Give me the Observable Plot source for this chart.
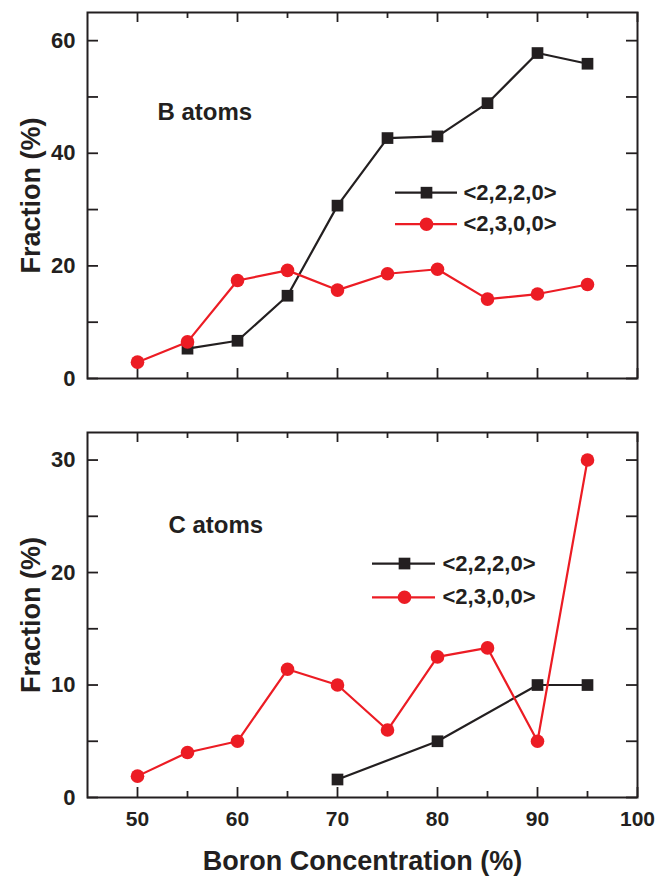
<!DOCTYPE html>
<html>
<head>
<meta charset="utf-8">
<script src="https://cdn.jsdelivr.net/npm/d3@7"></script>
<script src="https://cdn.jsdelivr.net/npm/@observablehq/plot@0.6"></script>
<style>
  html, body { margin: 0; padding: 0; background: #ffffff; }
  #chart { width: 655px; }
  #chart svg { display: block; }
</style>
</head>
<body>
<div id="chart"></div>
<script>
// ---------------- data ----------------
const boron = [50, 55, 60, 65, 70, 75, 80, 85, 90, 95];

// B atoms panel
const bAtoms2220 = [null, 5.3, 6.7, 14.7, 30.7, 42.7, 43.0, 48.9, 57.8, 55.9];
const bAtoms2300 = [2.9, 6.5, 17.4, 19.2, 15.7, 18.6, 19.4, 14.1, 15.0, 16.7];

// C atoms panel
const cAtoms2220 = [null, null, null, null, 1.6, null, 5.0, null, 10.0, 10.0];
const cAtoms2300 = [1.9, 4.0, 5.0, 11.4, 10.0, 6.0, 12.5, 13.3, 5.0, 30.0];

const seriesNames = ["<2,2,2,0>", "<2,3,0,0>"];
const panelLabels = ["B atoms", "C atoms"];
const xTickLabels = [50, 60, 70, 80, 90, 100];
const xMinorTicks = [55, 65, 75, 85, 95];
const yTicksTop = [0, 10, 20, 30, 40, 50, 60];
const yLabelsTop = [0, 20, 40, 60];
const yTicksBottom = [0, 5, 10, 15, 20, 25, 30];
const yLabelsBottom = [0, 10, 20, 30];
const yTitle = "Fraction (%)";
const xTitle = "Boron Concentration (%)";

// ---------------- styling ----------------
const ink = "#231f20";
const red = "#ec1c24";
const font = "'Liberation Sans', Arial, Helvetica, sans-serif";
const W = 655, ML = 87, MR = 18;

function rows(ys) {
  return boron.map((x, i) => ({x, y: ys[i]})).filter(d => d.y != null);
}

function panel(o) {
  const innerW = W - ML - MR;
  const innerH = o.height - o.marginTop - o.marginBottom;
  const s1 = rows(o.s2220), s2 = rows(o.s2300);
  const lg = o.legend;
  const marks = [
    // inward ticks on all four sides
    Plot.tickY(o.yTicks, {y: d => d, stroke: ink, strokeWidth: 1.8, insetRight: innerW - 11}),
    Plot.tickY(o.yTicks, {y: d => d, stroke: ink, strokeWidth: 1.8, insetLeft: innerW - 11}),
    Plot.tickX(xTickLabels, {x: d => d, stroke: ink, strokeWidth: 1.8, insetTop: innerH - 10}),
    Plot.tickX(xTickLabels, {x: d => d, stroke: ink, strokeWidth: 1.8, insetBottom: innerH - 10}),
    Plot.tickX(xMinorTicks, {x: d => d, stroke: ink, strokeWidth: 1.8, insetTop: innerH - 6}),
    Plot.tickX(xMinorTicks, {x: d => d, stroke: ink, strokeWidth: 1.8, insetBottom: innerH - 6}),
    Plot.axisY(o.yLabels, {tickSize: 0, tickPadding: 12, fontSize: 22, fontWeight: "bold", fill: ink, label: null}),
    Plot.text([yTitle], {frameAnchor: "left", rotate: -90, dx: -56, textAnchor: "middle", lineAnchor: "middle",
      fontSize: 27, fontWeight: "bold", fill: ink}),
    // series
    Plot.line(s1, {x: "x", y: "y", stroke: ink, strokeWidth: 2.2}),
    Plot.line(s2, {x: "x", y: "y", stroke: red, strokeWidth: 2.2}),
    Plot.dot(s1, {x: "x", y: "y", symbol: "square", r: 6.6, fill: ink}),
    Plot.dot(s2, {x: "x", y: "y", symbol: "circle", r: 6.8, fill: red}),
    // panel label
    Plot.text([o.label], {frameAnchor: "top-left", dx: o.labelDx, dy: o.labelDy, textAnchor: "start", lineAnchor: "middle",
      fontSize: 24, fontWeight: "bold", fill: ink}),
    // legend
    Plot.ruleY([lg.y1], {x1: lg.x1, x2: lg.x2, stroke: ink, strokeWidth: 2.2}),
    Plot.ruleY([lg.y2], {x1: lg.x1, x2: lg.x2, stroke: red, strokeWidth: 2.2}),
    Plot.dot([{x: lg.xm, y: lg.y1}], {x: "x", y: "y", symbol: "square", r: 6.6, fill: ink}),
    Plot.dot([{x: lg.xm, y: lg.y2}], {x: "x", y: "y", symbol: "circle", r: 6.8, fill: red}),
    Plot.text([{t: seriesNames[0], y: lg.y1}, {t: seriesNames[1], y: lg.y2}],
      {x: () => lg.xt, y: "y", text: "t", textAnchor: "start", lineAnchor: "middle", fontSize: 22, fontWeight: "bold", fill: ink}),
    Plot.frame({stroke: ink, strokeWidth: 2})
  ];
  if (o.showX) {
    marks.push(
      Plot.axisX(xTickLabels, {tickSize: 0, tickPadding: 14, fontSize: 21, fontWeight: "bold", fill: ink, label: null}),
      Plot.text([xTitle], {frameAnchor: "bottom", dy: 64, textAnchor: "middle", lineAnchor: "middle",
        fontSize: 27, fontWeight: "bold", fill: ink})
    );
  }
  return Plot.plot({
    width: W,
    height: o.height,
    marginLeft: ML,
    marginRight: MR,
    marginTop: o.marginTop,
    marginBottom: o.marginBottom,
    style: {fontFamily: font, background: "transparent", overflow: "visible", color: ink},
    x: {domain: [45, 100], axis: null, label: null},
    y: {domain: o.yDomain, axis: null, label: null},
    marks
  });
}

const chart = document.getElementById("chart");
chart.append(panel({
  height: 405, marginTop: 12, marginBottom: 27,
  yDomain: [0, 65], yTicks: yTicksTop, yLabels: yLabelsTop,
  s2220: bAtoms2220, s2300: bAtoms2300,
  label: panelLabels[0], labelDx: 70, labelDy: 100,
  legend: {x1: 75.8, x2: 82.0, xm: 78.9, xt: 82.6, y1: 33.0, y2: 27.4},
  showX: false
}));
chart.append(panel({
  height: 472, marginTop: 27, marginBottom: 80,
  yDomain: [0, 32.45], yTicks: yTicksBottom, yLabels: yLabelsBottom,
  s2220: cAtoms2220, s2300: cAtoms2300,
  label: panelLabels[1], labelDx: 81, labelDy: 93,
  legend: {x1: 73.5, x2: 79.8, xm: 76.7, xt: 80.5, y1: 20.8, y2: 17.8},
  showX: true
}));
</script>
</body>
</html>
